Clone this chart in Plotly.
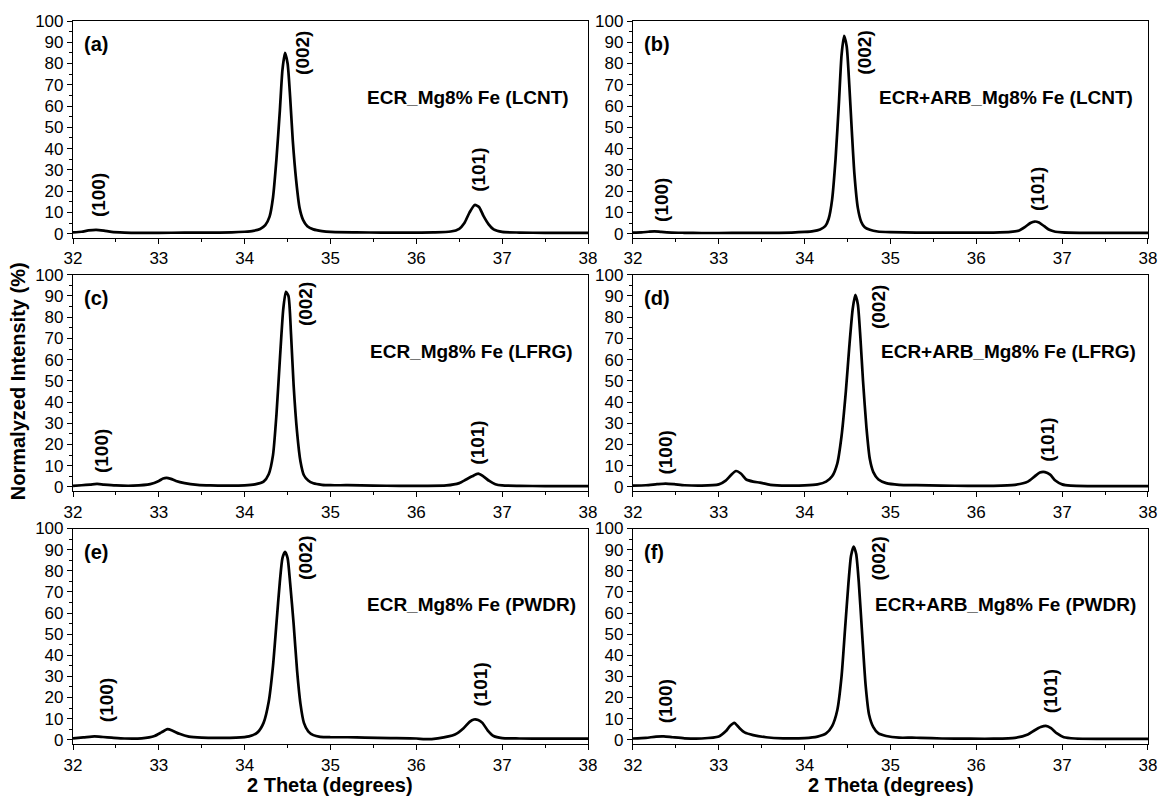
import plotly.graph_objects as go

# ---------------- data ----------------
x_a = [32.00,32.10,32.18,32.27,32.36,32.45,32.60,32.80,33.00,33.30,33.60,33.85,34.00,34.10,34.18,34.24,34.29,34.33,34.37,34.41,34.44,34.47,34.50,34.53,34.56,34.60,34.64,34.68,34.73,34.80,34.90,35.00,35.30,35.60,35.90,36.20,36.40,36.50,36.56,36.62,36.68,36.73,36.78,36.84,36.90,37.00,37.20,37.50,38.00]
y_a = [0.6,0.9,1.5,1.8,1.4,0.8,0.5,0.4,0.4,0.45,0.5,0.6,0.9,1.3,2.2,4.0,8.0,17,35,58,77,85,80,64,44,25,12,6.5,3.5,2.0,1.2,0.8,0.6,0.5,0.5,0.6,1.0,2.3,5.0,10.0,13.5,12.5,8.5,4.5,2.0,0.8,0.5,0.4,0.4]

x_b = [32.00,32.10,32.18,32.25,32.33,32.45,32.60,32.80,33.00,33.30,33.60,33.85,34.00,34.10,34.18,34.24,34.28,34.32,34.36,34.40,34.43,34.46,34.49,34.52,34.55,34.58,34.62,34.66,34.70,34.76,34.85,35.00,35.30,35.60,35.90,36.20,36.40,36.50,36.57,36.63,36.68,36.73,36.79,36.85,36.92,37.00,37.20,37.50,38.00]
y_b = [0.5,0.6,0.9,1.1,0.8,0.5,0.4,0.3,0.3,0.35,0.4,0.5,0.8,1.2,2.0,3.5,7.0,16,35,62,84,93,88,70,48,28,12,5.5,3.0,1.8,1.0,0.7,0.5,0.45,0.45,0.5,0.8,1.5,3.2,5.0,5.7,5.2,3.5,1.8,0.9,0.6,0.4,0.35,0.35]

x_c = [32.00,32.10,32.20,32.28,32.36,32.50,32.70,32.90,33.00,33.05,33.09,33.14,33.20,33.30,33.45,33.60,33.80,34.00,34.12,34.22,34.28,34.33,34.37,34.41,34.45,34.48,34.51,34.54,34.57,34.61,34.65,34.69,34.74,34.80,34.90,35.00,35.20,35.50,35.80,36.10,36.35,36.50,36.58,36.65,36.72,36.78,36.85,36.92,37.00,37.20,37.50,38.00]
y_c = [0.5,0.8,1.1,1.4,1.1,0.7,0.6,1.3,2.8,4.0,4.3,3.8,2.8,1.8,1.0,0.7,0.6,0.7,1.2,2.5,6,15,34,60,84,92,90,72,48,26,12,5.5,3.0,1.7,1.0,0.8,0.8,0.6,0.5,0.5,0.7,1.8,3.5,5.0,6.3,5.0,2.8,1.3,0.7,0.5,0.4,0.4]

x_d = [32.00,32.15,32.28,32.38,32.48,32.60,32.80,33.00,33.08,33.14,33.20,33.26,33.32,33.40,33.48,33.60,33.80,34.00,34.15,34.25,34.32,34.38,34.43,34.48,34.52,34.56,34.59,34.62,34.65,34.68,34.72,34.76,34.80,34.86,34.95,35.10,35.30,35.60,35.90,36.20,36.45,36.60,36.68,36.74,36.80,36.86,36.92,37.00,37.10,37.30,37.60,38.00]
y_d = [0.6,0.8,1.3,1.6,1.3,0.8,0.6,1.2,3.0,5.5,7.5,6.2,3.5,2.5,2.0,1.0,0.6,0.7,1.2,2.5,5.0,11,24,45,66,84,90.5,86,70,50,28,13,7,3.5,1.8,1.0,0.8,0.6,0.5,0.5,1.0,2.5,5.0,6.8,7.0,5.8,3.0,1.2,0.6,0.4,0.4,0.4]

x_e = [32.00,32.12,32.25,32.35,32.45,32.60,32.80,32.95,33.03,33.10,33.16,33.24,33.35,33.50,33.70,33.90,34.05,34.15,34.22,34.28,34.33,34.37,34.41,34.44,34.47,34.50,34.53,34.57,34.61,34.65,34.69,34.74,34.80,34.88,35.00,35.20,35.40,35.70,36.00,36.10,36.25,36.45,36.55,36.62,36.67,36.72,36.77,36.83,36.90,37.00,37.20,37.50,38.00]
y_e = [0.7,1.1,1.6,1.3,1.0,0.6,0.7,1.8,3.5,5.0,4.3,2.8,1.5,1.0,0.9,1.0,1.6,3.5,8,18,35,55,75,86,89,86,74,55,33,17,8,4,2.2,1.4,1.2,1.2,1.0,0.8,0.6,0.3,0.7,2.5,5.5,8.5,9.6,9.4,8.0,4.5,1.8,0.8,0.6,0.5,0.5]

x_f = [32.00,32.15,32.27,32.36,32.46,32.60,32.80,33.00,33.08,33.13,33.18,33.23,33.30,33.40,33.55,33.75,34.00,34.15,34.25,34.32,34.38,34.43,34.47,34.51,34.54,34.57,34.60,34.63,34.67,34.71,34.75,34.80,34.86,34.95,35.10,35.25,35.35,35.60,35.90,36.20,36.45,36.60,36.68,36.75,36.81,36.87,36.94,37.02,37.15,37.40,37.70,38.00]
y_f = [0.6,0.9,1.5,1.6,1.2,0.7,0.6,1.5,4.0,6.5,8.0,6.0,3.5,2.2,1.2,0.7,0.8,1.5,3.0,6.5,14,30,52,74,87,91.5,88,75,50,26,12,6,3.0,1.8,1.0,1.0,0.9,0.6,0.5,0.5,0.9,2.5,4.5,6.0,6.6,5.5,3.0,1.2,0.6,0.4,0.4,0.4]

panel_tags = ["(a)", "(b)", "(c)", "(d)", "(e)", "(f)"]
sample_names = ["ECR_Mg8% Fe (LCNT)", "ECR+ARB_Mg8% Fe (LCNT)",
                "ECR_Mg8% Fe (LFRG)", "ECR+ARB_Mg8% Fe (LFRG)",
                "ECR_Mg8% Fe (PWDR)", "ECR+ARB_Mg8% Fe (PWDR)"]
peak_names = ["(100)", "(002)", "(101)"]
x_ticks = [32, 33, 34, 35, 36, 37, 38]
y_ticks = [0, 10, 20, 30, 40, 50, 60, 70, 80, 90, 100]
x_title = "2 Theta (degrees)"
y_title = "Normalyzed Intensity (%)"

series_x = [x_a, x_b, x_c, x_d, x_e, x_f]
series_y = [y_a, y_b, y_c, y_d, y_e, y_f]

# label positions (data coords) per panel: [(x,y) for (100),(002),(101)]
peak_pos = [
    [(32.30, 18), (34.68, 85), (36.73, 30)],
    [(32.33, 16), (34.70, 85), (36.72, 21)],
    [(32.34, 17), (34.71, 86), (36.71, 21)],
    [(32.38, 16), (34.86, 85), (36.83, 22)],
    [(32.39, 19), (34.70, 86), (36.75, 26)],
    [(32.38, 18), (34.86, 86), (36.86, 23)],
]
name_right = [37.80, 37.85, 37.85, 37.88, 37.88, 37.88]

# ---------------- layout geometry ----------------
FONT = "Liberation Sans, Arial, sans-serif"
xdom = [[0.0, 0.4791], [0.5209, 1.0]]
ydom = [[0.700, 1.0], [0.3497, 0.649], [0.0, 0.298]]

fig = go.Figure()
annotations = []
for i in range(6):
    r, c = divmod(i, 2)
    ax = "" if i == 0 else str(i + 1)
    xa_name, ya_name = "xaxis" + ax, "yaxis" + ax
    xref, yref = "x" + ax, "y" + ax
    fig.add_trace(go.Scatter(x=series_x[i], y=series_y[i], mode="lines",
                             line=dict(color="black", width=2.7, shape="spline", smoothing=0.6),
                             xaxis=xref, yaxis=yref, showlegend=False, hoverinfo="skip"))
    common = dict(showline=True, linecolor="black", linewidth=1.2, mirror=True,
                  showgrid=False, zeroline=False, ticks="outside", tickcolor="black",
                  tickwidth=1.2, ticklen=5,
                  tickfont=dict(family=FONT, size=17, color="black"))
    fig.layout[xa_name] = dict(common, domain=xdom[c], range=[32, 38], tickvals=x_ticks,
                               anchor=yref,
                               minor=dict(ticks="outside", ticklen=3, dtick=0.5, tick0=32,
                                          tickcolor="black", tickwidth=1.2))
    fig.layout[ya_name] = dict(common, domain=ydom[r], range=[-2, 100], tickvals=y_ticks,
                               anchor=xref,
                               minor=dict(ticks="outside", ticklen=3, dtick=5, tick0=0,
                                          tickcolor="black", tickwidth=1.2))
    # panel tag
    annotations.append(dict(x=32.11, y=89, xref=xref, yref=yref, text="<b>%s</b>" % panel_tags[i],
                            showarrow=False, xanchor="left", yanchor="middle",
                            font=dict(family=FONT, size=20, color="black")))
    # sample name
    annotations.append(dict(x=name_right[i], y=64, xref=xref, yref=yref,
                            text="<b>%s</b>" % sample_names[i], showarrow=False,
                            xanchor="right", yanchor="middle",
                            font=dict(family=FONT, size=19, color="black")))
    for (px, py), pn in zip(peak_pos[i], peak_names):
        annotations.append(dict(x=px, y=py, xref=xref, yref=yref, text="<b>%s</b>" % pn,
                                showarrow=False, textangle=-90, xanchor="center", yanchor="middle",
                                font=dict(family=FONT, size=19, color="black")))

# axis titles
annotations.append(dict(x=-0.051, y=0.502, xref="paper", yref="paper", text="<b>%s</b>" % y_title,
                        showarrow=False, textangle=-90, xanchor="center", yanchor="middle",
                        font=dict(family=FONT, size=20, color="black")))
for cx in [0.2395, 0.7605]:
    annotations.append(dict(x=cx, y=-0.057, xref="paper", yref="paper", text="<b>%s</b>" % x_title,
                            showarrow=False, xanchor="center", yanchor="middle",
                            font=dict(family=FONT, size=20, color="black")))

fig.update_layout(width=1171, height=796, margin=dict(l=73, r=23, t=19, b=52),
                  paper_bgcolor="white", plot_bgcolor="white", annotations=annotations,
                  showlegend=False)
fig.write_html("out.html")
